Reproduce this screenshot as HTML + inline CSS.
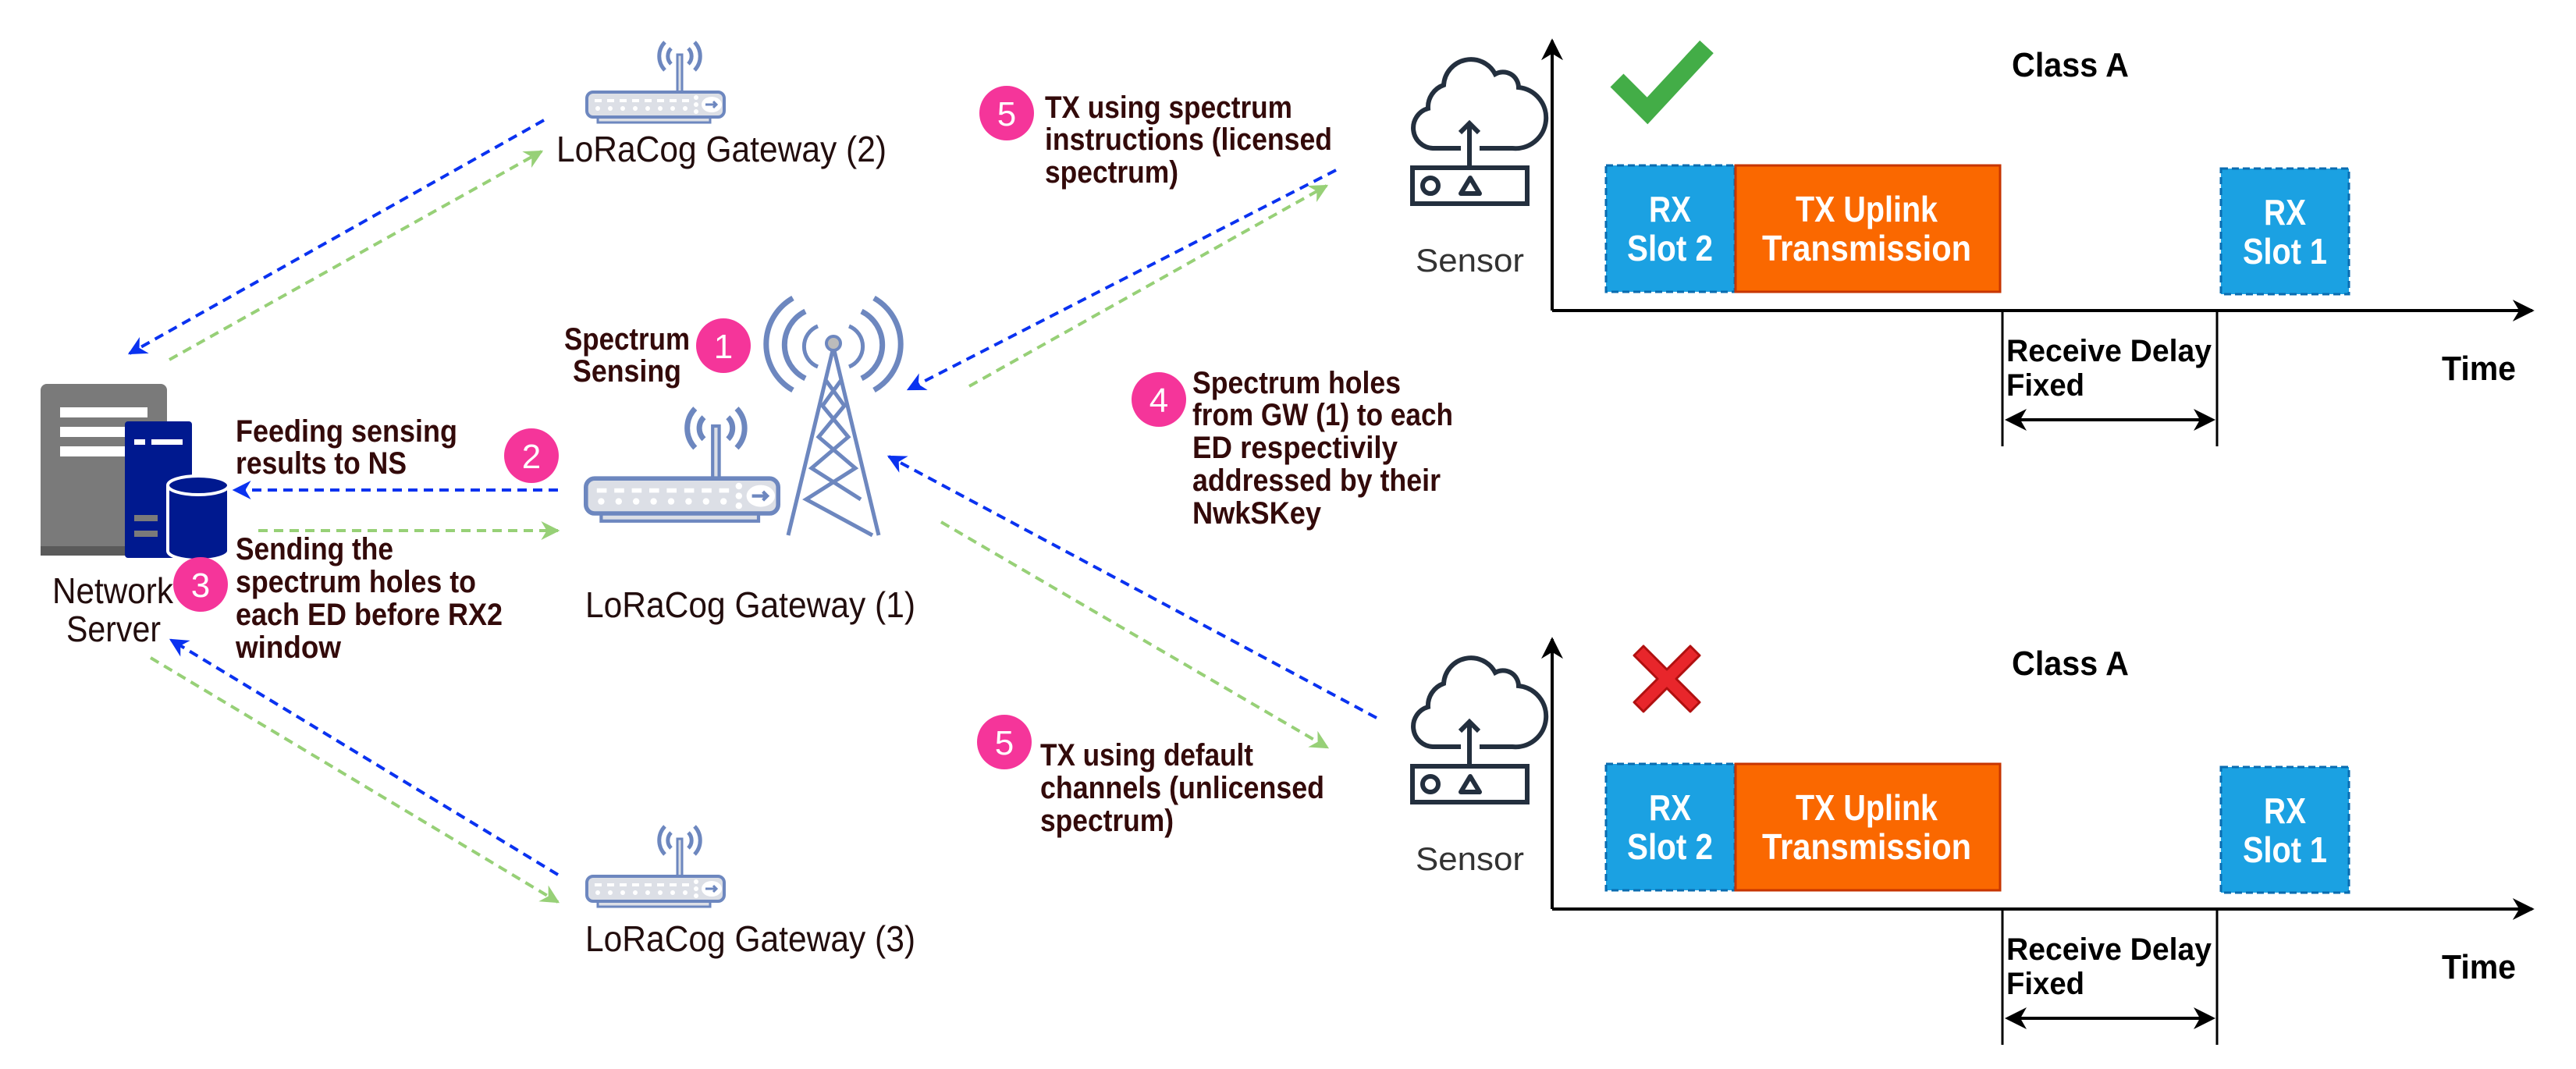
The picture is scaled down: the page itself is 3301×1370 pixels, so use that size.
<!DOCTYPE html>
<html><head><meta charset="utf-8"><style>html,body{margin:0;padding:0;background:#fff}svg{display:block}</style></head>
<body>
<svg width="3301" height="1370" viewBox="0 0 3301 1370" xmlns="http://www.w3.org/2000/svg" font-family="Liberation Sans, sans-serif">
<defs>
<marker id="ab" viewBox="0 0 10 10" refX="9" refY="5" markerWidth="6" markerHeight="6" orient="auto" markerUnits="strokeWidth"><path d="M0,0 L10,5 L0,10 L3,5 z" fill="#0a32f0"/></marker>
<marker id="ag" viewBox="0 0 10 10" refX="9" refY="5" markerWidth="6" markerHeight="6" orient="auto" markerUnits="strokeWidth"><path d="M0,0 L10,5 L0,10 L3,5 z" fill="#97d077"/></marker>
<marker id="ak" viewBox="0 0 10 10" refX="9" refY="5" markerWidth="7" markerHeight="7" orient="auto" markerUnits="strokeWidth"><path d="M0,0 L10,5 L0,10 L3,5 z" fill="#000"/></marker>
<g id="router">
  <g fill="none" stroke="#6d87bf" stroke-width="5">
    <path d="M110,52 a14,14 0 0 1 0,-20 M132,52 a14,14 0 0 0 0,-20"/>
    <path d="M102,60 a26,26 0 0 1 0,-36 M140,60 a26,26 0 0 0 0,-36"/>
  </g>
  <rect x="118" y="40" width="6" height="58" fill="#dcdfe6" stroke="#6d87bf" stroke-width="3"/>
  <rect x="16" y="120" width="144" height="7" fill="#dcdfe6" stroke="#6d87bf" stroke-width="3"/>
  <rect x="2" y="88" width="176" height="32" rx="8" fill="#dcdfe6" stroke="#6d87bf" stroke-width="4"/>
  <g fill="#fff">
    <rect x="12" y="97" width="9" height="4"/><rect x="28" y="97" width="9" height="4"/><rect x="44" y="97" width="9" height="4"/><rect x="60" y="97" width="9" height="4"/><rect x="76" y="97" width="9" height="4"/><rect x="92" y="97" width="9" height="4"/><rect x="108" y="97" width="9" height="4"/><rect x="124" y="97" width="9" height="4"/>
    <circle cx="16" cy="109" r="3"/><circle cx="32" cy="109" r="3"/><circle cx="48" cy="109" r="3"/><circle cx="64" cy="109" r="3"/><circle cx="80" cy="109" r="3"/><circle cx="96" cy="109" r="3"/><circle cx="112" cy="109" r="3"/><circle cx="128" cy="109" r="3"/>
    <circle cx="142" cy="95" r="3"/><circle cx="142" cy="104" r="3"/><circle cx="142" cy="113" r="3"/>
    <ellipse cx="162" cy="104" rx="13" ry="10"/>
  </g>
  <path d="M154,104 h14 M164,100 l4,4 -4,4" stroke="#6d87bf" stroke-width="3" fill="none"/>
</g>
<g id="sensor" fill="none" stroke="#232f3e" stroke-width="6">
  <path d="M1872,190 h-36 a26,26 0 0 1 -6,-51 a30,30 0 0 1 20,-30 a35,35 0 0 1 66,-14 a20,20 0 0 1 30,17 a27,27 0 0 1 -8,78 h-42"/>
  <path d="M1883,215 V158 M1871,170 l12,-12 12,12"/>
  <rect x="1810" y="215" width="147" height="46"/>
  <circle cx="1833" cy="238" r="10"/>
  <path d="M1872,248 l12,-20 12,20 z" stroke-linejoin="round"/>
</g>
<g id="chart">
  <line x1="1989" y1="398" x2="1989" y2="52" stroke="#000" stroke-width="4" marker-end="url(#ak)"/>
  <line x1="1989" y1="398" x2="3245" y2="398" stroke="#000" stroke-width="4" marker-end="url(#ak)"/>
  <rect x="2058" y="212" width="165" height="162" fill="#1ba1e2" stroke="#0a6cb0" stroke-width="3" stroke-dasharray="9 5"/>
  <rect x="2224" y="212" width="339" height="162" fill="#fa6800" stroke="#c73500" stroke-width="3"/>
  <rect x="2846" y="216" width="164" height="161" fill="#1ba1e2" stroke="#0a6cb0" stroke-width="3" stroke-dasharray="9 5"/>
  <g fill="#fff" font-weight="bold" font-size="46" text-anchor="middle">
    <text x="2140" y="284" textLength="54" lengthAdjust="spacingAndGlyphs">RX</text>
    <text x="2140" y="334" textLength="110" lengthAdjust="spacingAndGlyphs">Slot 2</text>
    <text x="2392" y="284" textLength="182" lengthAdjust="spacingAndGlyphs">TX Uplink</text>
    <text x="2392" y="334" textLength="268" lengthAdjust="spacingAndGlyphs">Transmission</text>
    <text x="2928" y="288" textLength="54" lengthAdjust="spacingAndGlyphs">RX</text>
    <text x="2928" y="338" textLength="108" lengthAdjust="spacingAndGlyphs">Slot 1</text>
  </g>
  <line x1="2566" y1="398" x2="2566" y2="572" stroke="#000" stroke-width="3"/>
  <line x1="2841" y1="398" x2="2841" y2="572" stroke="#000" stroke-width="3"/>
  <line x1="2580" y1="538" x2="2828" y2="538" stroke="#000" stroke-width="4"/>
  <path d="M2569,538 l28,-14 -8,14 8,14 z" fill="#000"/>
  <path d="M2839,538 l-28,-14 8,14 -8,14 z" fill="#000"/>
  <text x="2578" y="98" font-size="44" font-weight="bold" textLength="150" lengthAdjust="spacingAndGlyphs">Class A</text>
  <text x="3129" y="487" font-size="44" font-weight="bold" textLength="95" lengthAdjust="spacingAndGlyphs">Time</text>
  <text x="2571" y="463" font-size="40" font-weight="bold" textLength="263" lengthAdjust="spacingAndGlyphs">Receive Delay</text>
  <text x="2571" y="507" font-size="40" font-weight="bold" textLength="100" lengthAdjust="spacingAndGlyphs">Fixed</text>
  <text x="1814" y="348" font-size="42" fill="#333" textLength="139" lengthAdjust="spacingAndGlyphs">Sensor</text>
</g>
</defs>

<!-- connectors -->
<g fill="none" stroke-width="4" stroke-dasharray="12 8">
  <line x1="697" y1="154" x2="166" y2="453" stroke="#0a32f0" marker-end="url(#ab)"/>
  <line x1="217" y1="461" x2="694" y2="194" stroke="#97d077" marker-end="url(#ag)"/>
  <line x1="715" y1="628" x2="300" y2="628" stroke="#0a32f0" marker-end="url(#ab)"/>
  <line x1="331" y1="680" x2="715" y2="680" stroke="#97d077" marker-end="url(#ag)"/>
  <line x1="715" y1="1121" x2="219" y2="820" stroke="#0a32f0" marker-end="url(#ab)"/>
  <line x1="193" y1="843" x2="715" y2="1156" stroke="#97d077" marker-end="url(#ag)"/>
  <line x1="1712" y1="218" x2="1164" y2="499" stroke="#0a32f0" marker-end="url(#ab)"/>
  <line x1="1242" y1="495" x2="1700" y2="238" stroke="#97d077" marker-end="url(#ag)"/>
  <line x1="1764" y1="920" x2="1139" y2="585" stroke="#0a32f0" marker-end="url(#ab)"/>
  <line x1="1206" y1="669" x2="1701" y2="958" stroke="#97d077" marker-end="url(#ag)"/>
</g>

<!-- server -->
<rect x="52" y="492" width="162" height="220" rx="8" fill="#7a7a7a"/>
<rect x="52" y="700" width="162" height="12" fill="#5a5a5a"/>
<rect x="77" y="522" width="112" height="13" fill="#fff"/>
<rect x="77" y="547" width="112" height="13" fill="#fff"/>
<rect x="77" y="572" width="112" height="13" fill="#fff"/>
<rect x="160" y="540" width="86" height="175" rx="4" fill="#00198f"/>
<rect x="172" y="563" width="14" height="7" fill="#fff"/><rect x="194" y="563" width="40" height="7" fill="#fff"/>
<rect x="172" y="660" width="30" height="8" fill="#7a7a7a"/><rect x="172" y="680" width="30" height="8" fill="#7a7a7a"/>
<path d="M215,622 v84 a39,12 0 0 0 78,0 v-84 a39,12 0 0 0 -78,0 z" fill="#00198f" stroke="#fff" stroke-width="4"/>
<path d="M215,622 a39,12 0 0 0 78,0" fill="none" stroke="#fff" stroke-width="4"/>

<!-- routers -->
<use href="#router" transform="translate(750,30)"/>
<use href="#router" transform="translate(750,1035)"/>
<g transform="translate(748,546) scale(1.4)"><use href="#router" transform="translate(0,-40)"/></g>

<!-- tower -->
<g fill="none" stroke="#6d87bf" stroke-width="5">
  <path d="M1068,445 L1010,686 M1068,445 L1126,686"/>
  <path d="M1058,487 L1082,520 L1049,560 L1096,600 L1033,640 L1118,686 M1078,487 L1054,520 L1087,560 L1040,600 L1103,640"/>
  <path d="M1048,470 a28,28 0 0 1 0,-52 M1088,470 a28,28 0 0 0 0,-52"/>
  <path d="M1032,485 a48,48 0 0 1 0,-86 M1104,485 a48,48 0 0 0 0,-86" stroke-width="7"/>
  <path d="M1016,500 a68,68 0 0 1 0,-118 M1120,500 a68,68 0 0 0 0,-118" stroke-width="7"/>
</g>
<circle cx="1068" cy="440" r="9" fill="#bbb" stroke="#6d87bf" stroke-width="4"/>

<!-- sensors & charts -->
<use href="#sensor"/>
<use href="#chart"/>
<use href="#sensor" transform="translate(0,767)"/>
<use href="#chart" transform="translate(0,767)"/>
<path d="M2072,103 L2111,142 L2187,60" fill="none" stroke="#43ad47" stroke-width="24"/>
<g transform="translate(2136,870)">
  <path d="M-30,-42 L0,-12 L30,-42 L42,-30 L12,0 L42,30 L30,42 L0,12 L-30,42 L-42,30 L-12,0 L-42,-30 z" fill="#e8262b" stroke="#b01010" stroke-width="3" stroke-linejoin="round"/>
</g>

<!-- circles -->
<g fill="#f5359a">
  <circle cx="927" cy="443" r="35"/><circle cx="681" cy="584" r="35"/><circle cx="257" cy="749" r="35"/>
  <circle cx="1485" cy="512" r="35"/><circle cx="1290" cy="145" r="35"/><circle cx="1287" cy="951" r="35"/>
</g>
<g fill="#fff" font-size="44" text-anchor="middle">
  <text x="927" y="459">1</text><text x="681" y="600">2</text><text x="257" y="765">3</text>
  <text x="1485" y="528">4</text><text x="1290" y="161">5</text><text x="1287" y="967">5</text>
</g>

<!-- labels -->
<g fill="#220d0d" font-size="46">
  <text x="713" y="207" textLength="423" lengthAdjust="spacingAndGlyphs">LoRaCog Gateway (2)</text>
  <text x="750" y="791" textLength="423" lengthAdjust="spacingAndGlyphs">LoRaCog Gateway (1)</text>
  <text x="750" y="1219" textLength="423" lengthAdjust="spacingAndGlyphs">LoRaCog Gateway (3)</text>
  <text x="67" y="773" textLength="155" lengthAdjust="spacingAndGlyphs">Network</text>
  <text x="85" y="822" textLength="121" lengthAdjust="spacingAndGlyphs">Server</text>
</g>
<g fill="#330a0a" font-size="40" font-weight="bold">
  <text x="723" y="448" textLength="161" lengthAdjust="spacingAndGlyphs">Spectrum</text>
  <text x="734" y="489" textLength="139" lengthAdjust="spacingAndGlyphs">Sensing</text>
  <text x="302" y="566" textLength="284" lengthAdjust="spacingAndGlyphs">Feeding sensing</text>
  <text x="302" y="607" textLength="219" lengthAdjust="spacingAndGlyphs">results to NS</text>
  <text x="302" y="717" textLength="202" lengthAdjust="spacingAndGlyphs">Sending the</text>
  <text x="302" y="759" textLength="308" lengthAdjust="spacingAndGlyphs">spectrum holes to</text>
  <text x="302" y="801" textLength="342" lengthAdjust="spacingAndGlyphs">each ED before RX2</text>
  <text x="302" y="843" textLength="135" lengthAdjust="spacingAndGlyphs">window</text>
  <text x="1339" y="151" textLength="317" lengthAdjust="spacingAndGlyphs">TX using spectrum</text>
  <text x="1339" y="192" textLength="368" lengthAdjust="spacingAndGlyphs">instructions (licensed</text>
  <text x="1339" y="234" textLength="171" lengthAdjust="spacingAndGlyphs">spectrum)</text>
  <text x="1333" y="981" textLength="273" lengthAdjust="spacingAndGlyphs">TX using default</text>
  <text x="1333" y="1023" textLength="364" lengthAdjust="spacingAndGlyphs">channels (unlicensed</text>
  <text x="1333" y="1065" textLength="171" lengthAdjust="spacingAndGlyphs">spectrum)</text>
  <text x="1528" y="504" textLength="267" lengthAdjust="spacingAndGlyphs">Spectrum holes</text>
  <text x="1528" y="545" textLength="334" lengthAdjust="spacingAndGlyphs">from GW (1) to each</text>
  <text x="1528" y="587" textLength="263" lengthAdjust="spacingAndGlyphs">ED respectivily</text>
  <text x="1528" y="629" textLength="318" lengthAdjust="spacingAndGlyphs">addressed by their</text>
  <text x="1528" y="671" textLength="165" lengthAdjust="spacingAndGlyphs">NwkSKey</text>
</g>
</svg>
</body></html>
